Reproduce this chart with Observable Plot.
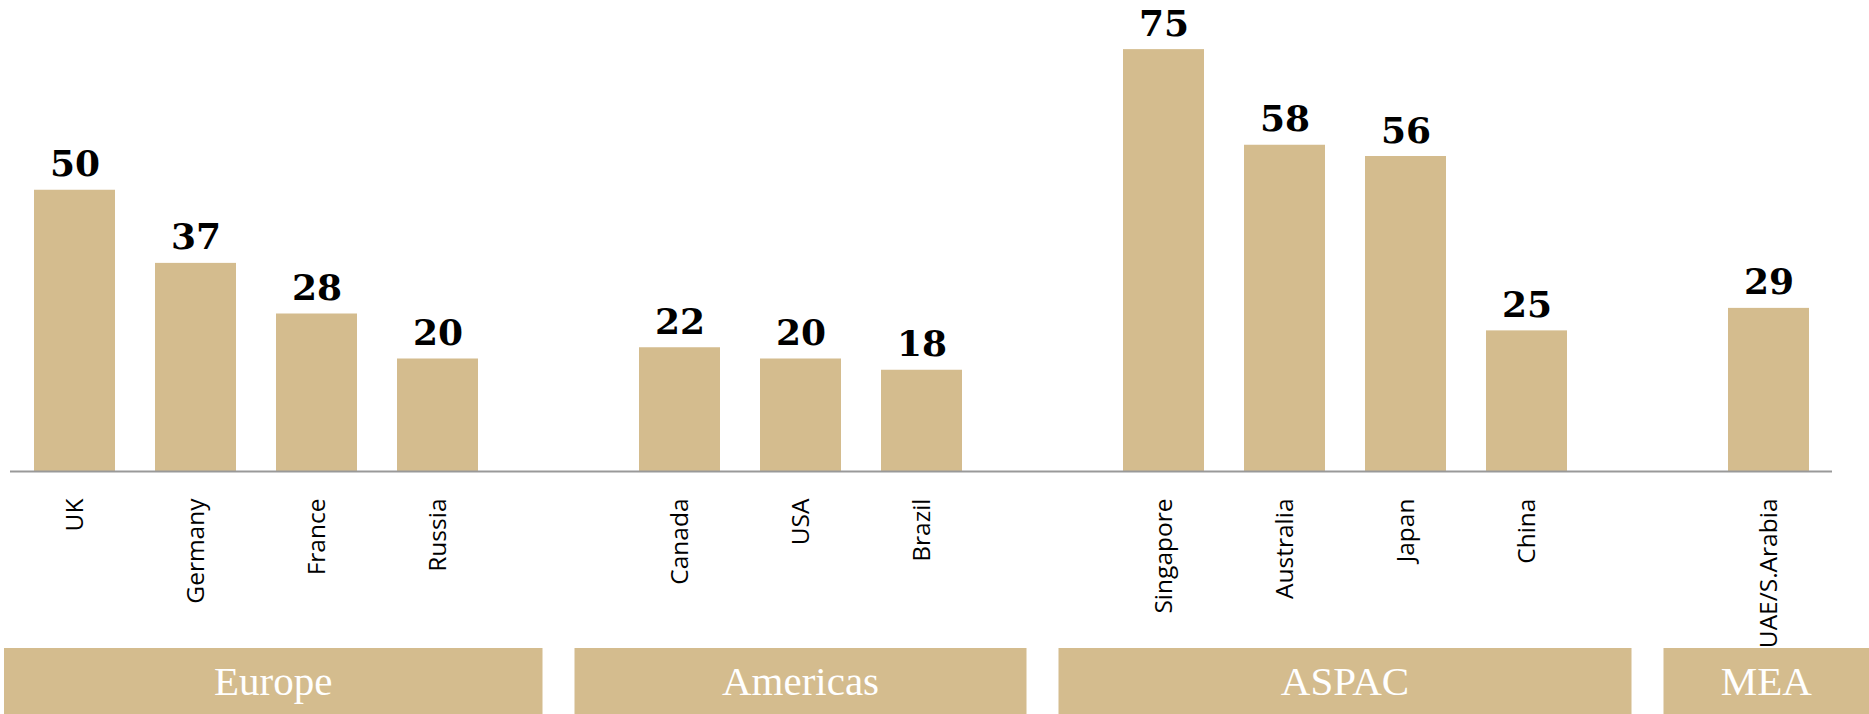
<!DOCTYPE html>
<html><head><meta charset="utf-8">
<script src="https://cdn.jsdelivr.net/npm/d3@7"></script>
<script src="https://cdn.jsdelivr.net/npm/@observablehq/plot@0.6"></script>
<style>body{margin:0;background:#fff}#chart{width:1869px;height:714px}</style>
</head><body><div id="chart"></div>
<script>
const countries = ["UK","Germany","France","Russia","Canada","USA","Brazil","Singapore","Australia","Japan","China","UAE/S.Arabia"];
const values = [50,37,28,20,22,20,18,75,58,56,25,29];
const regionOf = ["Europe","Europe","Europe","Europe","Americas","Americas","Americas","ASPAC","ASPAC","ASPAC","ASPAC","MEA"];
const regions = ["Europe","Americas","ASPAC","MEA"];

const data = countries.map((c,i)=>({country:c, value:values[i], region:regionOf[i]}));
const domain = [];
regions.forEach((r,gi)=>{ if(gi>0) domain.push("gap"+gi); data.filter(d=>d.region===r).forEach(d=>domain.push(d.country)); });

const W=1869, H=714;
const gold = "#D4BC8E";
const plot = Plot.plot({
  width: W, height: H,
  marginLeft: 30, marginRight: 57, marginTop: 21, marginBottom: 243,
  style: {background:"#fff", fontFamily:"'Open Sans', sans-serif", fontSize:"24.5px", color:"#000"},
  x: {type:"band", domain, paddingInner: 0.333, paddingOuter: 0, align: 0.5, label: null},
  y: {domain:[0,80], axis:null},
  marks: [
    Plot.barY(data, {x:"country", y:"value", fill: gold}),
    Plot.ruleY([0], {stroke:"#999", strokeWidth:2, insetLeft:-20, insetRight:-20}),
    Plot.text(data, {x:"country", y:"value", text: d=>String(d.value), lineAnchor:"bottom", dy:-14,
      fontFamily:"'DejaVu Serif', serif", fontWeight:"bold", fontSize:36, fill:"#000"}),
    Plot.axisX({tickSize:0, tickPadding:27, tickRotate:-90, tickFormat: d=>d.startsWith("gap")?"":d, label:null})
  ]
});
document.getElementById("chart").appendChild(plot);

// region boxes computed from the band scale (centred on the empty gap slots)
const xs = plot.scale("x");
const bw = xs.bandwidth;
const svg = d3.select(plot);
const g = svg.append("g");
const boxH = 66, boxTop = H - boxH;
regions.forEach((r,gi)=>{
  const left = gi===0 ? 4 : xs.apply("gap"+gi) + bw/2 + 16;
  const right = gi===regions.length-1 ? W : xs.apply("gap"+(gi+1)) + bw/2 - 16;
  g.append("rect").attr("x", left).attr("y", boxTop).attr("width", right-left).attr("height", boxH).attr("fill", gold);
  g.append("text").attr("x", (left+right)/2).attr("y", boxTop+47).attr("text-anchor","middle")
    .attr("fill","#fff").attr("font-family","'Liberation Serif', serif").attr("font-size", 41).text(r);
});
</script></body></html>
